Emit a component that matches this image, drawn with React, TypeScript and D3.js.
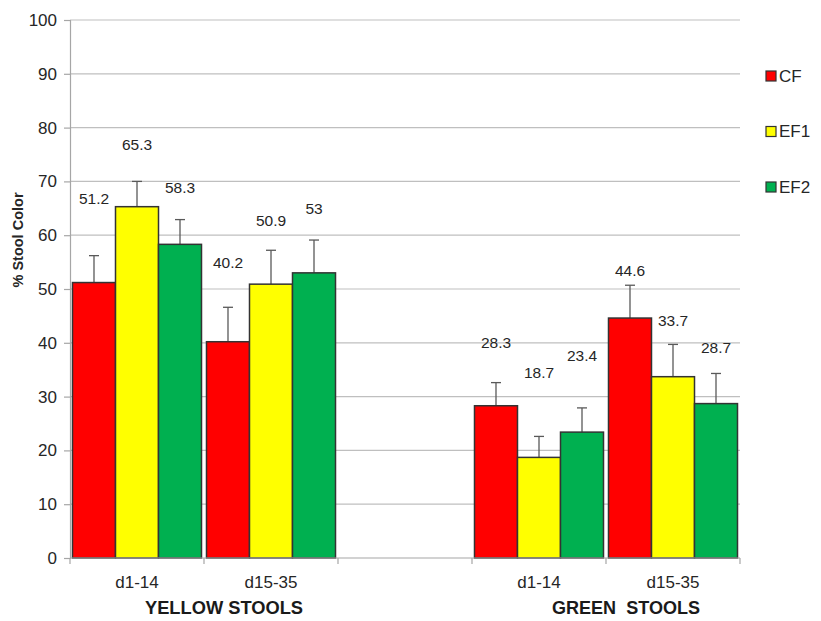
import { useEffect, useRef } from 'react'
import * as d3 from 'd3'

const slots = ['y1', 'y2', 'gap', 'g1', 'g2']
const slotLabels = ['d1-14', 'd15-35', '', 'd1-14', 'd15-35']
const groupNames = ['YELLOW STOOLS', 'GREEN  STOOLS']
const series = ['CF', 'EF1', 'EF2']
const colors = ['#ff0000', '#ffff00', '#00b050']

// values per slot (gap slot empty)
const cfValues = [51.2, 40.2, null, 28.3, 44.6]
const ef1Values = [65.3, 50.9, null, 18.7, 33.7]
const ef2Values = [58.3, 53, null, 23.4, 28.7]
const cfErr = [5.0, 6.4, null, 4.3, 6.1]
const ef1Err = [4.7, 6.3, null, 3.9, 6.0]
const ef2Err = [4.6, 6.1, null, 4.5, 5.6]
// where the value labels sit, in axis units (they were hand-placed)
const cfLabelAt = [66.9, 55, null, 40, 53.4]
const ef1LabelAt = [76.8, 62.8, null, 34.4, 44.2]
const ef2LabelAt = [68.8, 64.9, null, 37.7, 39.2]
const yTicks = [0, 10, 20, 30, 40, 50, 60, 70, 80, 90, 100]

export default function App() {
  const svgRef = useRef<SVGSVGElement>(null)

  useEffect(() => {
    if (!svgRef.current) return
    const svg = d3.select(svgRef.current)
    svg.selectAll('*').remove()

    const font = 'Liberation Sans, Arial, sans-serif'
    const m = { left: 70, right: 740, top: 20, bottom: 558 }

    const x0 = d3.scaleBand<string>().domain(slots).range([m.left, m.right]).padding(0)
    const x1 = d3.scaleBand<string>().domain(series).range([0, x0.bandwidth()])
      .paddingInner(0).paddingOuter(0.058)
    const y = d3.scaleLinear().domain([0, 100]).range([m.bottom, m.top])

    const vals = [cfValues, ef1Values, ef2Values]
    const errs = [cfErr, ef1Err, ef2Err]
    const labs = [cfLabelAt, ef1LabelAt, ef2LabelAt]

    // grid
    svg.append('g').selectAll('line').data(yTicks.filter(t => t > 0)).join('line')
      .attr('x1', m.left).attr('x2', m.right)
      .attr('y1', d => y(d)).attr('y2', d => y(d))
      .attr('stroke', '#bfbfbf').attr('stroke-width', 1.2)

    // y axis
    const ya = svg.append('g').attr('transform', `translate(${m.left},0)`)
      .call(d3.axisLeft(y).tickValues(yTicks).tickSize(6).tickPadding(7))
    ya.select('.domain').attr('stroke', '#a6a6a6').attr('stroke-width', 1.2)
    ya.selectAll('.tick line').attr('stroke', '#a6a6a6').attr('stroke-width', 1.2)
    ya.selectAll('.tick text').attr('fill', '#262626').attr('font-size', 17).attr('font-family', font)

    // bars
    const rows = slots.flatMap((s, i) => series.map((k, j) => ({
      slot: s, key: k, j, v: vals[j][i], e: errs[j][i], lab: labs[j][i],
    }))).filter(d => d.v != null) as { slot: string; key: string; j: number; v: number; e: number; lab: number }[]

    const bx = (d: { slot: string; key: string }) => x0(d.slot)! + x1(d.key)!
    const cx = (d: { slot: string; key: string }) => bx(d) + x1.bandwidth() / 2

    // error bars (up only)
    const eb = svg.append('g')
    eb.selectAll('line.v').data(rows).join('line').attr('class', 'v')
      .attr('x1', cx).attr('x2', cx)
      .attr('y1', d => y(d.v)).attr('y2', d => y(d.v + d.e))
      .attr('stroke', '#595959').attr('stroke-width', 1.3)
    eb.selectAll('line.c').data(rows).join('line').attr('class', 'c')
      .attr('x1', d => cx(d) - 5).attr('x2', d => cx(d) + 5)
      .attr('y1', d => y(d.v + d.e)).attr('y2', d => y(d.v + d.e))
      .attr('stroke', '#595959').attr('stroke-width', 1.3)

    svg.append('g').selectAll('rect').data(rows).join('rect')
      .attr('x', bx).attr('width', x1.bandwidth())
      .attr('y', d => y(d.v)).attr('height', d => y(0) - y(d.v))
      .attr('fill', d => colors[d.j]).attr('stroke', '#333').attr('stroke-width', 1.5)

    // value labels
    svg.append('g').selectAll('text').data(rows).join('text')
      .attr('x', cx).attr('y', d => y(d.lab)).attr('dy', '0.35em')
      .attr('text-anchor', 'middle').attr('font-size', 15.5).attr('font-family', font)
      .attr('fill', '#262626').text(d => String(d.v))

    // x axis
    const xa = svg.append('g').attr('transform', `translate(0,${m.bottom})`)
    xa.append('line').attr('x1', m.left).attr('x2', m.right).attr('y1', 0).attr('y2', 0)
      .attr('stroke', '#a6a6a6').attr('stroke-width', 1.2)
    const bounds = slots.map(s => x0(s)!).concat([m.right])
    xa.selectAll('line.t').data(bounds).join('line').attr('class', 't')
      .attr('x1', d => d).attr('x2', d => d).attr('y1', 0).attr('y2', 6)
      .attr('stroke', '#a6a6a6').attr('stroke-width', 1.2)
    xa.selectAll('text.c').data(slots).join('text').attr('class', 'c')
      .attr('x', d => x0(d)! + x0.bandwidth() / 2).attr('y', 30)
      .attr('text-anchor', 'middle').attr('font-size', 17).attr('font-family', font)
      .attr('fill', '#262626').text((_, i) => slotLabels[i])

    const groupCenters = [
      (x0('y1')! + x0('y2')! + x0.bandwidth()) / 2,
      (x0('g1')! + x0('g2')! + x0.bandwidth()) / 2,
    ]
    const groupWidths = [158, 148]
    xa.selectAll('text.g').data(groupNames).join('text').attr('class', 'g')
      .attr('x', (_, i) => groupCenters[i] + 20 - groupWidths[i] / 2).attr('y', 56)
      .attr('textLength', (_, i) => groupWidths[i]).attr('lengthAdjust', 'spacingAndGlyphs')
      .attr('font-size', 19).attr('font-weight', 'bold')
      .attr('font-family', font)
      .attr('fill', '#1a1a1a').style('white-space', 'pre').text(d => d)

    // y title
    svg.append('text').attr('transform', 'translate(23,240) rotate(-90)')
      .attr('text-anchor', 'middle').attr('font-size', 14.5).attr('font-weight', 'bold')
      .attr('font-family', font).attr('fill', '#262626').text('% Stool Color')

    // legend
    const lg = svg.append('g').selectAll('g').data(series).join('g')
      .attr('transform', (_, i) => `translate(766,${76 + i * 55.5})`)
    lg.append('rect').attr('x', 0).attr('y', -5).attr('width', 10).attr('height', 10)
      .attr('fill', (_, i) => colors[i]).attr('stroke', '#333').attr('stroke-width', 1.2)
    lg.append('text').attr('x', 13).attr('dy', '0.35em').attr('font-size', 17)
      .attr('font-family', font).attr('fill', '#262626').text(d => d)
  }, [])

  return (
    <svg ref={svgRef} width={821} height={621}
      style={{ position: 'absolute', left: 0, top: 0, background: '#fff' }} />
  )
}
